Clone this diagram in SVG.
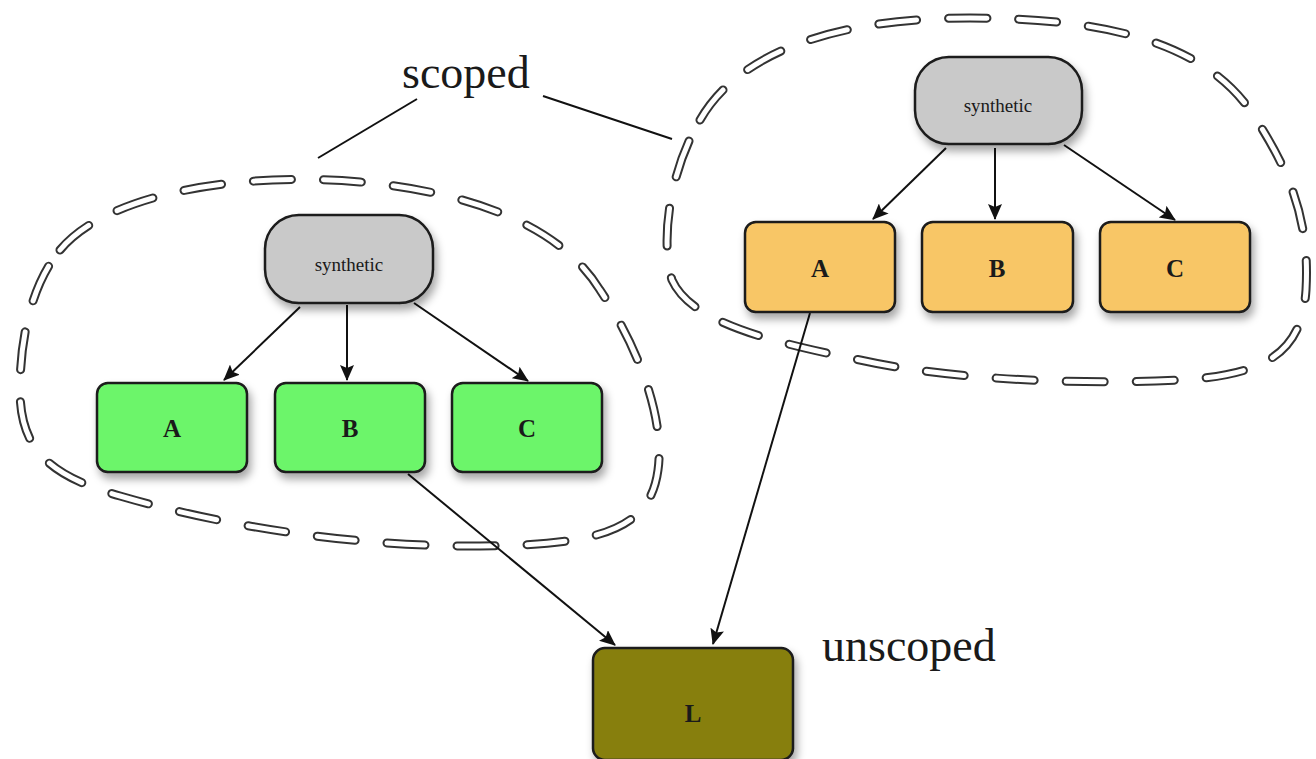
<svg xmlns="http://www.w3.org/2000/svg" width="1316" height="759" viewBox="0 0 1316 759">
  <defs>
    <filter id="shadow" x="-20%" y="-20%" width="150%" height="160%">
      <feDropShadow dx="3" dy="6" stdDeviation="4" flood-color="#000" flood-opacity="0.35"/>
    </filter>
    <marker id="arrow" viewBox="0 0 16 14" refX="15" refY="7" markerWidth="16" markerHeight="14" markerUnits="userSpaceOnUse" orient="auto">
      <path d="M0,0 L16,7 L0,14 L3,7 Z" fill="#111"/>
    </marker>
  </defs>
  <style>
    .bg { fill: #ffffff; }
    .scope-out { fill: none; stroke: #333; stroke-width: 9; stroke-dasharray: 38 32; stroke-linecap: round; }
    .scope-in { fill: none; stroke: #fff; stroke-width: 5; stroke-dasharray: 38 32; stroke-linecap: round; }
    .node rect { stroke: #1a1a1a; stroke-width: 2.5; filter: url(#shadow); }
    .synth rect { fill: #c9c9c9; }
    .green rect { fill: #6cf56b; }
    .orange rect { fill: #f8c666; }
    .olive rect { fill: #877f10; }
    .label { font-family: "Liberation Serif", serif; fill: #1a1a1a; text-anchor: middle; }
    .small { font-size: 19px; }
    .big { font-size: 25px; font-weight: bold; }
    .caption { font-family: "Liberation Serif", serif; font-size: 46px; fill: #1a1a1a; }
    .edge { stroke: #111; stroke-width: 2; fill: none; marker-end: url(#arrow); }
    .pointer { stroke: #111; stroke-width: 2; fill: none; }
  </style>
  <rect class="bg" width="1316" height="759"/>

  <!-- scope outlines (hollow dashes) -->
  <g id="scopes">
    <path id="scope-left-shape" class="scope-out" d="M60,250 C110,190 250,172 360,182 C470,192 560,225 600,290 C640,350 665,420 658,470 C650,530 600,545 480,546 C360,547 230,528 120,496 C50,476 20,450 20,390 C20,330 35,280 60,250 Z"/>
    <path class="scope-in" d="M60,250 C110,190 250,172 360,182 C470,192 560,225 600,290 C640,350 665,420 658,470 C650,530 600,545 480,546 C360,547 230,528 120,496 C50,476 20,450 20,390 C20,330 35,280 60,250 Z"/>
    <path id="scope-right-shape" class="scope-out" d="M700,120 C740,50 840,18 970,18 C1100,18 1200,40 1250,110 C1290,170 1310,220 1306,290 C1302,350 1270,375 1180,380 C1080,385 950,380 860,360 C760,340 690,320 672,280 C660,240 670,170 700,120 Z"/>
    <path class="scope-in" d="M700,120 C740,50 840,18 970,18 C1100,18 1200,40 1250,110 C1290,170 1310,220 1306,290 C1302,350 1270,375 1180,380 C1080,385 950,380 860,360 C760,340 690,320 672,280 C660,240 670,170 700,120 Z"/>
  </g>

  <!-- captions -->
  <text class="caption" x="402" y="88">scoped</text>
  <text class="caption" x="822" y="661">unscoped</text>

  <!-- connectors -->
  <g id="connectors">
    <line class="pointer" x1="318" y1="158" x2="417" y2="99"/>
    <line class="pointer" x1="543" y1="96" x2="672" y2="139"/>
    <line class="edge" x1="300" y1="307" x2="224" y2="380"/>
    <line class="edge" x1="347" y1="305" x2="347" y2="380"/>
    <line class="edge" x1="414" y1="303" x2="528" y2="381"/>
    <line class="edge" x1="946" y1="148" x2="873" y2="219"/>
    <line class="edge" x1="995" y1="148" x2="995" y2="219"/>
    <line class="edge" x1="1064" y1="145" x2="1175" y2="220"/>
    <line class="edge" x1="408" y1="474" x2="615" y2="645"/>
    <line class="edge" x1="810" y1="313" x2="713" y2="644"/>
  </g>

  <!-- nodes -->
  <g id="synthetic-left" class="node synth">
    <rect x="265" y="215" width="168" height="88" rx="34"/>
    <text class="label small" x="349" y="271">synthetic</text>
  </g>
  <g id="left-A" class="node green">
    <rect x="97" y="383" width="150" height="89" rx="11"/>
    <text class="label big" x="172" y="437">A</text>
  </g>
  <g id="left-B" class="node green">
    <rect x="275" y="383" width="150" height="89" rx="11"/>
    <text class="label big" x="350" y="437">B</text>
  </g>
  <g id="left-C" class="node green">
    <rect x="452" y="383" width="150" height="89" rx="11"/>
    <text class="label big" x="527" y="437">C</text>
  </g>

  <g id="synthetic-right" class="node synth">
    <rect x="915" y="57" width="167" height="87" rx="34"/>
    <text class="label small" x="998" y="112">synthetic</text>
  </g>
  <g id="right-A" class="node orange">
    <rect x="745" y="222" width="150" height="90" rx="11"/>
    <text class="label big" x="820" y="277">A</text>
  </g>
  <g id="right-B" class="node orange">
    <rect x="922" y="222" width="151" height="90" rx="11"/>
    <text class="label big" x="997" y="277">B</text>
  </g>
  <g id="right-C" class="node orange">
    <rect x="1100" y="222" width="150" height="90" rx="11"/>
    <text class="label big" x="1175" y="277">C</text>
  </g>

  <g id="L" class="node olive">
    <rect x="593" y="648" width="200" height="112" rx="12"/>
    <text class="label big" x="693" y="722">L</text>
  </g>
</svg>
